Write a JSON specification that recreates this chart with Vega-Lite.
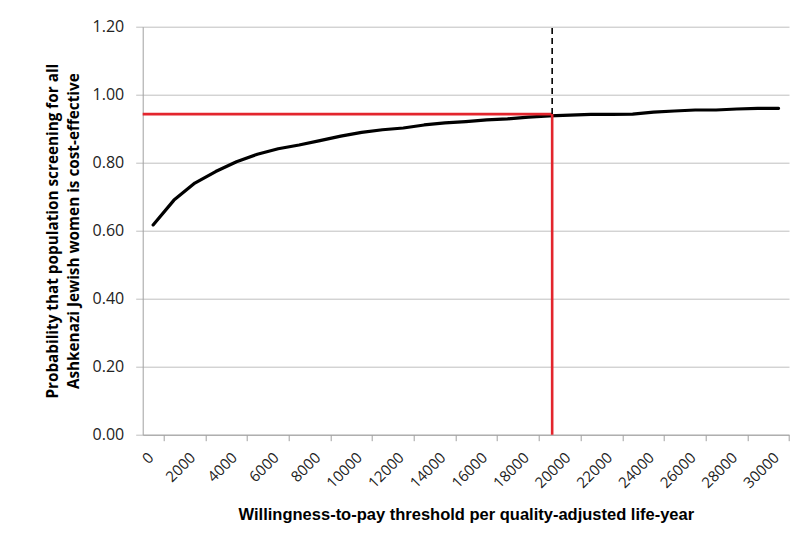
{
  "$schema": "https://vega.github.io/schema/vega-lite/v6.json",
  "width": 646.3,
  "height": 408,
  "autosize": "none",
  "padding": {"left": 142.7, "top": 26.7, "right": 6, "bottom": 112.3},
  "background": "white",
  "config": {
    "view": {"stroke": null},
    "axis": {"labelFont": "Open Sans", "labelColor": "#222", "titleFont": "Liberation Sans", "titleColor": "#000"}
  },
  "datasets": {
    "curve": [
      {"wtp": 0, "prob": 0.617},
      {"wtp": 1000, "prob": 0.690},
      {"wtp": 2000, "prob": 0.740},
      {"wtp": 3000, "prob": 0.774},
      {"wtp": 4000, "prob": 0.803},
      {"wtp": 5000, "prob": 0.825},
      {"wtp": 6000, "prob": 0.841},
      {"wtp": 7000, "prob": 0.852},
      {"wtp": 8000, "prob": 0.865},
      {"wtp": 9000, "prob": 0.878},
      {"wtp": 10000, "prob": 0.889},
      {"wtp": 11000, "prob": 0.897},
      {"wtp": 12000, "prob": 0.902},
      {"wtp": 13000, "prob": 0.911},
      {"wtp": 14000, "prob": 0.917},
      {"wtp": 15000, "prob": 0.921},
      {"wtp": 16000, "prob": 0.926},
      {"wtp": 17000, "prob": 0.929},
      {"wtp": 18000, "prob": 0.934},
      {"wtp": 19000, "prob": 0.938},
      {"wtp": 20000, "prob": 0.940},
      {"wtp": 21000, "prob": 0.942},
      {"wtp": 22000, "prob": 0.942},
      {"wtp": 23000, "prob": 0.943},
      {"wtp": 24000, "prob": 0.949},
      {"wtp": 25000, "prob": 0.952},
      {"wtp": 26000, "prob": 0.955},
      {"wtp": 27000, "prob": 0.955},
      {"wtp": 28000, "prob": 0.958},
      {"wtp": 29000, "prob": 0.960},
      {"wtp": 30000, "prob": 0.960}
    ],
    "redlines": [
      {"x": -500, "x2": 19140, "y": 0.943, "y2": 0.943},
      {"x": 19140, "x2": 19140, "y": 0, "y2": 0.943}
    ],
    "dashed": [
      {"x": 19140, "y": 0.943, "y2": 1.2}
    ]
  },
  "layer": [
    {
      "data": {"name": "curve"},
      "mark": {"type": "line", "color": "#000", "strokeWidth": 3.2, "strokeCap": "round", "strokeJoin": "round"},
      "encoding": {
        "x": {
          "field": "wtp", "type": "quantitative",
          "scale": {"domain": [-500, 30500], "nice": false, "zero": false},
          "axis": {
            "values": [0,1000,2000,3000,4000,5000,6000,7000,8000,9000,10000,11000,12000,13000,14000,15000,16000,17000,18000,19000,20000,21000,22000,23000,24000,25000,26000,27000,28000,29000,30000],
            "format": "d",
            "labelExpr": "datum.value % 2000 === 0 ? datum.label : ''",
            "tickOffset": 10.42,
            "labelOffset": -12.9,
            "labelAngle": -45,
            "labelAlign": "right",
            "labelBaseline": "middle",
            "labelFontSize": 15,
            "labelPadding": 14,
            "labelOverlap": false,
            "labelFlush": false,
            "grid": false,
            "tickSize": 6,
            "tickColor": "#a0a0a0",
            "domainColor": "#a0a0a0",
            "title": "Willingness-to-pay threshold per quality-adjusted life-year",
            "titleFontSize": 16.5,
            "titleFontWeight": "bold",
            "titleBaseline": "alphabetic",
            "titleY": 85
          }
        },
        "y": {
          "field": "prob", "type": "quantitative",
          "scale": {"domain": [0, 1.2], "nice": false},
          "axis": {
            "values": [0, 0.2, 0.4, 0.6, 0.8, 1.0, 1.2],
            "format": ".2f",
            "labelFontSize": 16,
            "labelPadding": 12,
            "grid": true,
            "gridColor": "#bfbfbf",
            "tickColor": "#bfbfbf",
            "tickSize": 7,
            "domainColor": "#a0a0a0",
            "title": ["Probability that population screening for all", "Ashkenazi Jewish women is cost-effective"],
            "titleFont": "Open Sans",
            "titleFontSize": 15.3,
            "titleFontWeight": "bold",
            "titleAngle": 270,
            "titleAlign": "center",
            "titleBaseline": "middle",
            "titleLineHeight": 21,
            "titleX": -90,
            "titleY": 204
          }
        }
      }
    },
    {
      "data": {"name": "redlines"},
      "mark": {"type": "rule", "color": "#e3252d", "strokeWidth": 2.6},
      "encoding": {
        "x": {"field": "x", "type": "quantitative"},
        "x2": {"field": "x2"},
        "y": {"field": "y", "type": "quantitative"},
        "y2": {"field": "y2"}
      }
    },
    {
      "data": {"name": "dashed"},
      "mark": {"type": "rule", "color": "#000", "strokeWidth": 1.6, "strokeDash": [6, 4]},
      "encoding": {
        "x": {"field": "x", "type": "quantitative"},
        "y": {"field": "y", "type": "quantitative"},
        "y2": {"field": "y2"}
      }
    }
  ]
}
